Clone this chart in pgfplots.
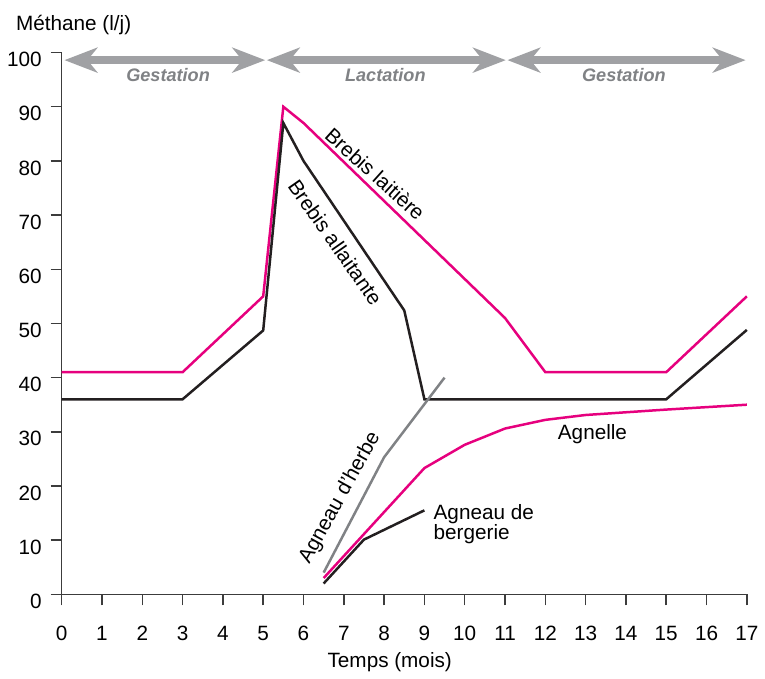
\documentclass[border=0pt]{standalone}
\usepackage{fontspec}
\setmainfont{Liberation Sans}
\usepackage{pgfplots}
\pgfplotsset{compat=1.18}
\usetikzlibrary{arrows.meta}
\definecolor{rose}{HTML}{E6007E}
\definecolor{noir}{HTML}{231F20}
\definecolor{gris}{HTML}{808285}
\definecolor{grisfleche}{HTML}{A0A1A4}
\definecolor{axe}{HTML}{3C3C3C}
\begin{document}
\begin{tikzpicture}[font=\fontsize{10.4}{10.4}\selectfont]
\begin{axis}[
  scale only axis,
  width=344pt, height=272pt,
  xmin=0, xmax=17, ymin=0, ymax=100,
  axis x line*=bottom, axis y line*=left,
  axis line style={axe, line width=0.75pt},
  xtick={0,...,17}, ytick={0,10,...,100},
  tick align=outside,
  major tick length=5.5pt,
  tick style={axe, line width=0.75pt},
  xticklabel style={yshift=-7pt},
  yticklabel style={yshift=-3.5pt, xshift=-1pt},
  /pgf/number format/assume math mode=true,
  clip=false,
  every axis plot/.append style={line width=1.25pt, line join=miter},
]
% Brebis laitiere
\addplot[rose, mark=none] coordinates {(0,41) (3,41) (5,55) (5.5,90) (6,87) (11,51) (12,41) (15,41) (17,55)};
% Brebis allaitante
\addplot[noir, mark=none] coordinates {(0,36) (3,36) (5,48.7) (5.5,87) (6,80) (8.5,52.4) (9,36) (15,36) (17,48.8)};
% Agneau d'herbe
\addplot[gris, mark=none] coordinates {(6.5,4) (8,25.3) (9.5,40)};
% Agnelle
\addplot[rose, mark=none] coordinates {(6.5,3) (9,23.3) (10,27.6) (11,30.6) (12,32.2) (13,33.1) (14,33.6) (15,34.1) (17,35)};
% Agneau de bergerie
\addplot[noir, mark=none] coordinates {(6.5,2) (7.5,10.1) (9,15.5)};

% periodes
\begin{scope}[grisfleche, line width=4pt,
  arr/.style={{Stealth[length=16.5pt,width=12.5pt,inset=5pt]}-{Stealth[length=16.5pt,width=12.5pt,inset=5pt]}}]
\draw[arr] (axis cs:0.07,98.6) -- (axis cs:5.05,98.6);
\draw[arr] (axis cs:5.09,98.6) -- (axis cs:11.02,98.6);
\draw[arr] (axis cs:11.06,98.6) -- (axis cs:16.97,98.6);
\end{scope}
\begin{scope}[gris, font=\fontsize{9.1}{10}\selectfont\bfseries\itshape]
\node at (axis cs:2.64,95.9) {Gestation};
\node at (axis cs:8.03,95.9) {Lactation};
\node at (axis cs:13.95,95.9) {Gestation};
\end{scope}

\node[rotate=-42] at (axis cs:7.78,77.6) {Brebis laitière};
\node[rotate=-55] at (axis cs:6.79,65.0) {Brebis allaitante};
\node[rotate=61] at (axis cs:6.91,17.8) {Agneau d'herbe};
\node at (axis cs:13.17,29.5) {Agnelle};
\node[anchor=west, align=left, inner sep=0pt, font=\fontsize{10.4}{10.2}\selectfont] at (axis cs:9.22,12.95) {Agneau de\\bergerie};

\node[anchor=west, inner sep=0pt] at (axis cs:-1.14,105) {Méthane (l/j)};
\node at (axis cs:8.14,-12.5) {Temps (mois)};

\path (axis cs:-1.53,-14.5) rectangle (axis cs:17.37,109.7);
\end{axis}
\end{tikzpicture}
\end{document}
